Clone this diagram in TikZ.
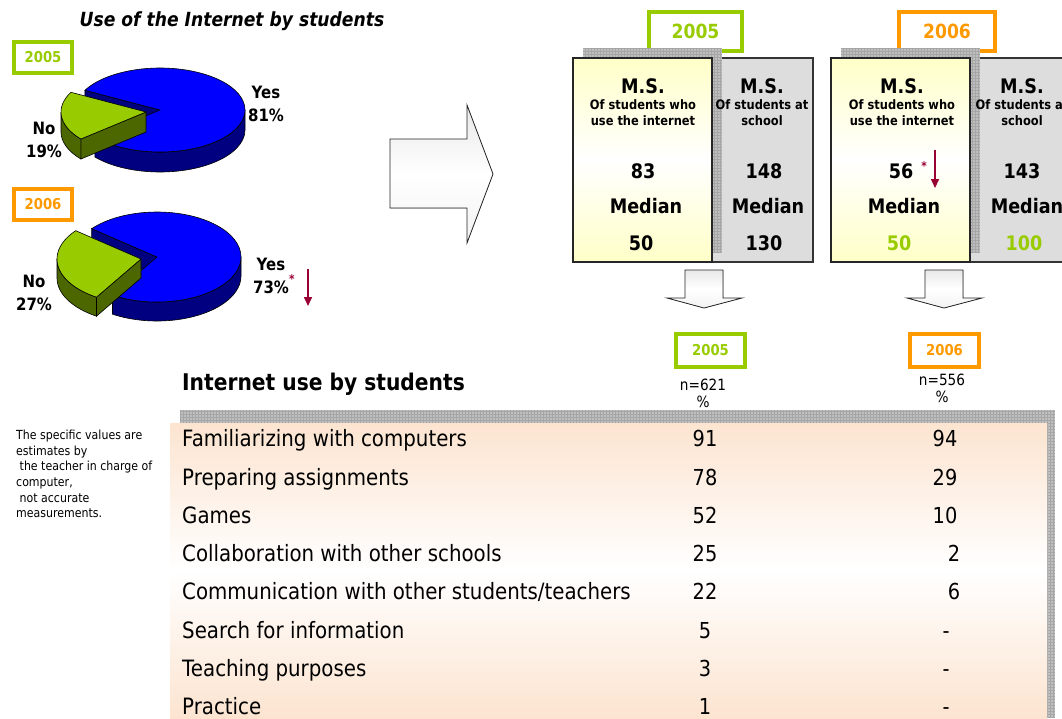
\documentclass[tikz,border=0pt]{standalone}
\usepackage{fontspec}
\setmainfont[FakeStretch=0.88]{DejaVu Sans}
\usetikzlibrary{arrows.meta,calc}

\definecolor{yrgreen}{HTML}{99CC00}
\definecolor{yrorange}{HTML}{FF9900}
\definecolor{pieblue}{HTML}{0000FF}
\definecolor{piedark}{HTML}{000080}
\definecolor{pieolive}{HTML}{4C6600}
\definecolor{starred}{HTML}{990033}
\definecolor{msyellow}{HTML}{FFFFC8}
\definecolor{msgray}{HTML}{DDDDDD}
\definecolor{peach}{HTML}{FCE4D0}

\begin{document}
\begin{tikzpicture}[x=1pt,y=-1pt,
    yearbox/.style={draw=#1,line width=4,fill=white,text=#1,inner sep=0pt,font=\bfseries},
    pielabel/.style={font=\bfseries\fontsize{17}{23}\selectfont,align=center},
    mshead/.style={font=\bfseries\fontsize{20}{22}\selectfont},
    mssub/.style={font=\bfseries\fontsize{13}{16}\selectfont,align=center},
    rowlabel/.style={anchor=west,inner sep=0pt,text height=19pt,text depth=2pt,font=\fontsize{22.5}{24}\selectfont},
    rowval/.style={inner sep=0pt,text height=19pt,text depth=2pt,font=\fontsize{22}{24}\selectfont},
    blockarrow/.style={draw=black!85,line width=0.8,top color=gray!18,bottom color=gray!10,middle color=white},
    redarrow/.style={draw=starred,line width=1.6,-{Triangle[length=9pt,width=8pt]}},
    gridband/.style={fill=gray!50},
    gridline/.style={draw=gray!70,line width=0.3,step=3pt}
  ]
  \useasboundingbox (0,0) rectangle (1062,718);
  \clip (0,0) rectangle (1062,718);

  % pies
  \node[font=\bfseries\itshape\fontsize{19.5}{22}\selectfont] (pietitle) at (232,21) {Use of the Internet by students};
  \node[yearbox=yrgreen,minimum width=58,minimum height=31,font=\bfseries\fontsize{15}{16}\selectfont] (y05a) at (43,57.5) {2005};
  \node[yearbox=yrorange,minimum width=58,minimum height=31,font=\bfseries\fontsize{15}{16}\selectfont] (y06a) at (43,204.5) {2006};

  \coordinate (b1) at (160,110);
  \coordinate (g1) at (146,112);
  \filldraw[fill=piedark,line width=0.6] (b1) -- ++(208:85 and 42) -- ++(0,20) -- ($(b1)+(0,20)$) -- cycle;
  \filldraw[fill=piedark,line width=0.6] (b1) ++(0:85 and 42) arc[start angle=0,end angle=140,x radius=85,y radius=42] -- ++(0,20) arc[start angle=140,end angle=0,x radius=85,y radius=42] -- cycle;
  \filldraw[fill=pieblue,line width=0.6] (b1) -- ++(208:85 and 42) arc[start angle=208,end angle=500,x radius=85,y radius=42] -- cycle;
  \filldraw[fill=pieolive,line width=0.6] (g1) -- ++(140:85 and 42) -- ++(0,20) -- ($(g1)+(0,20)$) -- cycle;
  \filldraw[fill=pieolive,line width=0.6] (g1) ++(140:85 and 42) arc[start angle=140,end angle=180,x radius=85,y radius=42] -- ++(0,20) arc[start angle=180,end angle=140,x radius=85,y radius=42] -- cycle;
  \filldraw[fill=yrgreen,line width=0.6] (g1) -- ++(140:85 and 42) arc[start angle=140,end angle=208,x radius=85,y radius=42] -- cycle;

  \coordinate (b2) at (157,257);
  \coordinate (g2) at (141,259);
  \filldraw[fill=piedark,line width=0.6] (b2) -- ++(219:84 and 45) -- ++(0,19) -- ($(b2)+(0,19)$) -- cycle;
  \filldraw[fill=piedark,line width=0.6] (b2) ++(0:84 and 45) arc[start angle=0,end angle=122,x radius=84,y radius=45] -- ++(0,19) arc[start angle=122,end angle=0,x radius=84,y radius=45] -- cycle;
  \filldraw[fill=pieblue,line width=0.6] (b2) -- ++(219:84 and 45) arc[start angle=219,end angle=482,x radius=84,y radius=45] -- cycle;
  \filldraw[fill=pieolive,line width=0.6] (g2) -- ++(122:84 and 45) -- ++(0,19) -- ($(g2)+(0,19)$) -- cycle;
  \filldraw[fill=pieolive,line width=0.6] (g2) ++(122:84 and 45) arc[start angle=122,end angle=180,x radius=84,y radius=45] -- ++(0,19) arc[start angle=180,end angle=122,x radius=84,y radius=45] -- cycle;
  \filldraw[fill=yrgreen,line width=0.6] (g2) -- ++(122:84 and 45) arc[start angle=122,end angle=219,x radius=84,y radius=45] -- cycle;

  \node[pielabel] (yes05) at (266,104) {Yes\\81\%};
  \node[pielabel] (no05) at (44,140) {No\\19\%};
  \node[pielabel] (yes06) at (271,276) {Yes\\73\%};
  \node[pielabel] (no06) at (34,293) {No\\27\%};
  \node[text=starred,font=\bfseries\fontsize{12}{12}\selectfont,inner sep=0pt] (star06) at (292,279) {*};
  \coordinate (dropa) at (308,269);
  \coordinate (dropb) at (308,306);
  \draw[redarrow] (dropa) -- (dropb);

  % big arrow
  \filldraw[blockarrow] (390,139) -- (467,139) -- (467,105) -- (493,174) -- (467,243) -- (467,208) -- (390,208) -- cycle;

  % panel 2005
  \node[yearbox=yrgreen,minimum width=93,minimum height=39,font=\bfseries\fontsize{19.5}{21}\selectfont] (y05b) at (695.5,31.5) {2005};
  \filldraw[fill=msgray,draw=black!80,line width=1.2] (712,58) rectangle (813,262);
  \fill[gridband] (583,48) rectangle (722,58);
  \fill[gridband] (712,58) rectangle (722,252);
  \draw[gridline] (583,48) grid (722,58);
  \draw[gridline] (712,58) grid (722,252);
  \draw[black!85,line width=1.5,top color=msyellow,bottom color=msyellow,middle color=white] (573,58) rectangle (712,262);
  \node[mshead] (ms05a) at (643,86) {M.S.};
  \node[mssub] (sub05a) at (643,113) {Of students who\\use the internet};
  \node[mshead] (n05a) at (643,171) {83};
  \node[mshead] (med05a) at (646,206) {Median};
  \node[mshead] (v05a) at (641,243) {50};
  \node[mshead] (ms05b) at (762,86) {M.S.};
  \node[mssub] (sub05b) at (762,113) {Of students at\\school};
  \node[mshead] (n05b) at (764,171) {148};
  \node[mshead] (med05b) at (768,206) {Median};
  \node[mshead] (v05b) at (764,243) {130};

  % panel 2006
  \node[yearbox=yrorange,minimum width=96,minimum height=39,font=\bfseries\fontsize{19.5}{21}\selectfont] (y06b) at (947,31.5) {2006};
  \filldraw[fill=msgray,draw=black!80,line width=1.2] (970,58) rectangle (1071,262);
  \fill[gridband] (841,48) rectangle (980,58);
  \fill[gridband] (970,58) rectangle (980,252);
  \draw[gridline] (841,48) grid (980,58);
  \draw[gridline] (970,58) grid (980,252);
  \draw[black!85,line width=1.5,top color=msyellow,bottom color=msyellow,middle color=white] (831,58) rectangle (970,262);
  \node[mshead] (ms06a) at (902,86) {M.S.};
  \node[mssub] (sub06a) at (902,113) {Of students who\\use the internet};
  \node[mshead] (n06a) at (901,171) {56};
  \node[text=starred,font=\bfseries\fontsize{12}{12}\selectfont,inner sep=0pt] (star56) at (924,166) {*};
  \coordinate (dropc) at (935,150);
  \coordinate (dropd) at (935,188);
  \draw[redarrow] (dropc) -- (dropd);
  \node[mshead] (med06a) at (904,206) {Median};
  \node[mshead,text=yrgreen] (v06a) at (899,243) {50};
  \node[mshead] (ms06b) at (1022,86) {M.S.};
  \node[mssub] (sub06b) at (1022,113) {Of students at\\school};
  \node[mshead] (n06b) at (1022,171) {143};
  \node[mshead] (med06b) at (1027,206) {Median};
  \node[mshead,text=yrgreen] (v06b) at (1024,243) {100};

  % down arrows
  \filldraw[blockarrow] (685,270) -- (723,270) -- (723,298) -- (742,298) -- (704,308) -- (667,298) -- (685,298) -- cycle;
  \filldraw[blockarrow] (925,270) -- (963,270) -- (963,298) -- (982,298) -- (944,308) -- (907,298) -- (925,298) -- cycle;
  \node[yearbox=yrgreen,minimum width=69,minimum height=33,font=\bfseries\fontsize{15}{16}\selectfont] (y05c) at (710.5,350.5) {2005};
  \node[yearbox=yrorange,minimum width=69,minimum height=33,font=\bfseries\fontsize{15}{16}\selectfont] (y06c) at (944.5,350.5) {2006};
  \node[font=\fontsize{15.5}{17}\selectfont,align=center] (base05) at (703,393) {n=621\\\%};
  \node[font=\fontsize{15.5}{17}\selectfont,align=center] (base06) at (942,388) {n=556\\\%};

  % table
  \node[anchor=west,inner sep=0pt,font=\bfseries\fontsize{23}{24}\selectfont] (usetitle) at (182,384) {Internet use by students};
  \node[anchor=north west,inner sep=0pt,align=left,font=\fontsize{12.5}{15.6}\selectfont] (note) at (16,430) {The specific values are\\estimates by\\ \ the teacher in charge of\\computer,\\ \ not accurate\\measurements.};
  \fill[gridband] (180,410) rectangle (1055,423);
  \fill[gridband] (1047,423) rectangle (1055,718);
  \draw[gridline] (180,410) grid (1055,423);
  \draw[gridline] (1047,423) grid (1055,718);
  \fill[top color=peach,bottom color=peach,middle color=white] (170,423) rectangle (1047,718);

  \node[rowlabel] (r1) at (182,438) {Familiarizing with computers};
  \node[rowlabel] (r2) at (182,477) {Preparing assignments};
  \node[rowlabel] (r3) at (182,515) {Games};
  \node[rowlabel] (r4) at (182,553) {Collaboration with other schools};
  \node[rowlabel] (r5) at (182,591) {Communication with other students/teachers};
  \node[rowlabel] (r6) at (182,630) {Search for information};
  \node[rowlabel] (r7) at (182,668) {Teaching purposes};
  \node[rowlabel] (r8) at (182,706) {Practice};

  \node[rowval] (a1) at (705,438) {91};
  \node[rowval] (a2) at (705,477) {78};
  \node[rowval] (a3) at (705,515) {52};
  \node[rowval] (a4) at (705,553) {25};
  \node[rowval] (a5) at (705,591) {22};
  \node[rowval] (a6) at (705,630) {5};
  \node[rowval] (a7) at (705,668) {3};
  \node[rowval] (a8) at (705,706) {1};

  \node[rowval] (c1) at (945,438) {94};
  \node[rowval] (c2) at (945,477) {29};
  \node[rowval] (c3) at (945,515) {10};
  \node[rowval] (c4) at (954,553) {2};
  \node[rowval] (c5) at (954,591) {6};
  \node[rowval] (c6) at (946,630) {-};
  \node[rowval] (c7) at (946,668) {-};
  \node[rowval] (c8) at (946,706) {-};
\end{tikzpicture}
\end{document}
